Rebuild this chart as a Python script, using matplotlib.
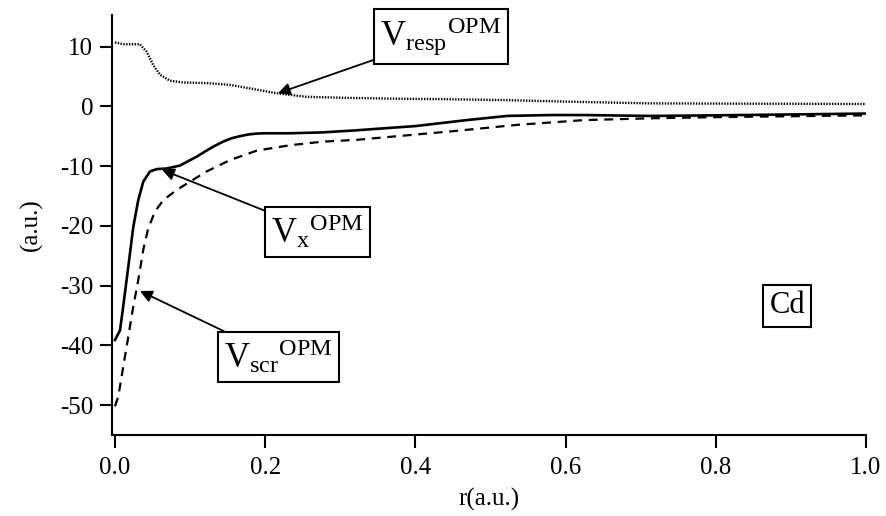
import matplotlib
matplotlib.use("Agg")
import matplotlib.pyplot as plt


plt.rcParams["font.family"] = ["Liberation Serif", "DejaVu Serif"]
plt.rcParams["mathtext.fontset"] = "custom"
plt.rcParams["mathtext.rm"] = "Liberation Serif"
plt.rcParams["mathtext.it"] = "Liberation Serif:italic"
plt.rcParams["axes.unicode_minus"] = False

# exchange potential V_x (solid)
r_x = [0.0, 0.0067, 0.011, 0.0177, 0.0244, 0.031, 0.0377, 0.0466, 0.0555,
       0.0688, 0.0866, 0.10, 0.109, 0.122, 0.133, 0.144, 0.155, 0.166,
       0.178, 0.189, 0.20, 0.233, 0.277, 0.322, 0.366, 0.40, 0.468, 0.522,
       0.58, 0.624, 0.712, 0.80, 0.90, 1.0]
v_x = [-39.1, -37.5, -33.5, -26.9, -20.2, -15.7, -12.6, -10.9, -10.5,
       -10.4, -9.9, -9.0, -8.4, -7.4, -6.6, -5.9, -5.35, -5.0,
       -4.7, -4.55, -4.5, -4.5, -4.35, -4.0, -3.6, -3.3, -2.3, -1.6,
       -1.45, -1.45, -1.6, -1.5, -1.35, -1.2]

# screening potential V_scr (dashed)
r_scr = [0.0, 0.0044, 0.011, 0.0177, 0.0244, 0.031, 0.0377, 0.0443, 0.0533,
         0.0643, 0.082, 0.10, 0.122, 0.153, 0.189, 0.233, 0.277, 0.322,
         0.366, 0.446, 0.535, 0.624, 0.712, 0.80, 0.90, 1.0]
v_scr = [-50.2, -48.6, -43.6, -38.6, -33.5, -29.1, -24.0, -20.4, -17.6,
         -15.7, -14.0, -12.6, -10.9, -9.0, -7.4, -6.5, -5.9, -5.6,
         -5.1, -4.2, -3.1, -2.3, -2.0, -1.8, -1.65, -1.5]

# response potential V_resp (dotted)
r_resp = [0.0, 0.011, 0.033, 0.042, 0.051, 0.06, 0.073, 0.091, 0.122,
          0.153, 0.18, 0.215, 0.255, 0.30, 0.366, 0.44, 0.513, 0.60,
          0.712, 0.85, 1.0]
v_resp = [10.7, 10.4, 10.4, 9.2, 6.9, 5.3, 4.3, 4.0, 3.9,
          3.6, 3.0, 2.2, 1.6, 1.45, 1.3, 1.2, 1.07, 0.8,
          0.5, 0.45, 0.4]

x_ticks = [0.0, 0.2, 0.4, 0.6, 0.8, 1.0]
y_ticks = [-50, -40, -30, -20, -10, 0, 10]

fig = plt.figure(figsize=(8.87, 5.16), dpi=100)
ax = fig.add_axes([0.1268, 0.157, 0.8495, 0.814])

ax.plot(r_x, v_x, color="black", lw=1.9, solid_joinstyle="round")
ax.plot(r_scr, v_scr, color="black", lw=1.6, dashes=(4, 3))
ax.plot(r_resp, v_resp, color="black", lw=1.7, dashes=(0.6, 0.6))

ax.set_xlim(-0.0033, 1.0)
ax.set_ylim(-55, 15.3)
ax.set_xticks(x_ticks)
ax.set_xticklabels([f"{t:.1f}" for t in x_ticks])
ax.set_yticks(y_ticks)

for side in ("top", "right"):
    ax.spines[side].set_visible(False)
for side in ("left", "bottom"):
    ax.spines[side].set_linewidth(1.5)
ax.tick_params(direction="out", length=9, width=1.5, labelsize=18, pad=5)
ax.tick_params(axis="x", pad=7)

ax.set_xlabel("r(a.u.)", fontsize=18, labelpad=6)
ax.set_ylabel("(a.u.)", fontsize=18, labelpad=12)

box = dict(boxstyle="square,pad=0.18", fc="white", ec="black", lw=1.5)
arrow = dict(arrowstyle="-|>", color="black", lw=1.3, mutation_scale=18,
             shrinkA=0, shrinkB=0)

ax.annotate(r"$\mathregular{V_{resp}{}^{OPM}}$", xy=(0.217, 2.2),
            xytext=(0.434, 11.7), fontsize=25, ha="center", va="center",
            bbox=box, arrowprops=arrow)
ax.annotate(r"$\mathregular{V_{x}{}^{OPM}}$", xy=(0.0626, -10.6),
            xytext=(0.27, -21.0), fontsize=25, ha="center", va="center",
            bbox=box, arrowprops=arrow)
ax.annotate(r"$\mathregular{V_{scr}{}^{OPM}}$", xy=(0.0333, -30.9),
            xytext=(0.2177, -42.0), fontsize=25, ha="center", va="center",
            bbox=box, arrowprops=arrow)

ax.text(0.895, -33.4, "Cd", fontsize=22, ha="center", va="center",
        bbox=dict(boxstyle="square,pad=0.2", fc="white", ec="black", lw=1.5))

fig.savefig("out.png", dpi=100)
